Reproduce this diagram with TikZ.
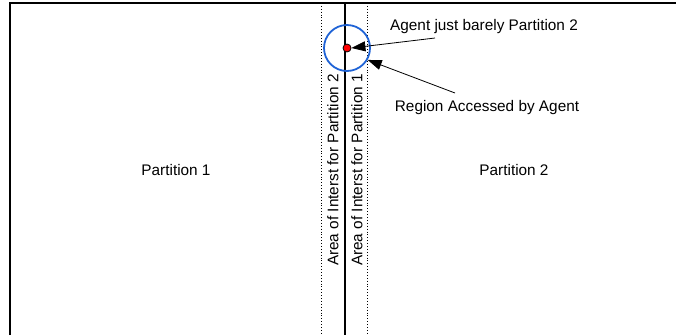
\documentclass[tikz,border=0pt]{standalone}
\usepackage{fontspec}
\setmainfont{Liberation Sans}
\usetikzlibrary{arrows.meta}
\definecolor{regionblue}{HTML}{1F63D6}
\tikzset{
  lbl/.style={font=\fontsize{15.4}{18}\selectfont, inner sep=0pt},
  pointer/.style={draw=black, line width=0.8bp, -{Triangle[length=14bp,width=10bp]}},
  border/.style={line width=2bp, black},
  aoi/.style={line width=0.9bp, dotted, black},
}
\begin{document}
\begin{tikzpicture}[x=1bp,y=-1bp]
\useasboundingbox (0,0) rectangle (676,335);
% outer frame (top and left)
\coordinate (tl) at (10,3);
\coordinate (tr) at (676,3);
\coordinate (bl) at (10,335);
\draw[border] (bl) -- (tl) -- (tr);
% partition boundary and areas of interest
\coordinate (ct) at (345,3);
\coordinate (cb) at (345,335);
\draw[border] (ct) -- (cb);
\coordinate (dlt) at (321.5,3);
\coordinate (dlb) at (321.5,335);
\coordinate (drt) at (367.5,3);
\coordinate (drb) at (367.5,335);
\draw[aoi] (dlt) -- (dlb);
\draw[aoi] (drt) -- (drb);
% labels
\node[lbl] (p1) at (176,170) {Partition 1};
\node[lbl] (p2) at (514,170) {Partition 2};
\node[lbl, rotate=90] (a2) at (333,170) {Area of Interst for Partition 2};
\node[lbl, rotate=90] (a1) at (357,170) {Area of Interst for Partition 1};
% region and agent
\node[circle, draw=regionblue, line width=1.8bp, minimum size=46bp, inner sep=0pt] (region) at (347,48) {};
\node[circle, draw=black, fill=red, line width=0.8bp, minimum size=8bp, inner sep=0pt] (agent) at (347,48) {};
\node[lbl] (agentlbl) at (484,27) {Agent just barely Partition 2};
\node[lbl] (regionlbl) at (487,108) {Region Accessed by Agent};
\coordinate (s1) at (435,38);
\coordinate (s2) at (455,93);
\draw[pointer] (s1) -- (agent.east);
\draw[pointer] (s2) -- (region.-30);
\end{tikzpicture}
\end{document}
